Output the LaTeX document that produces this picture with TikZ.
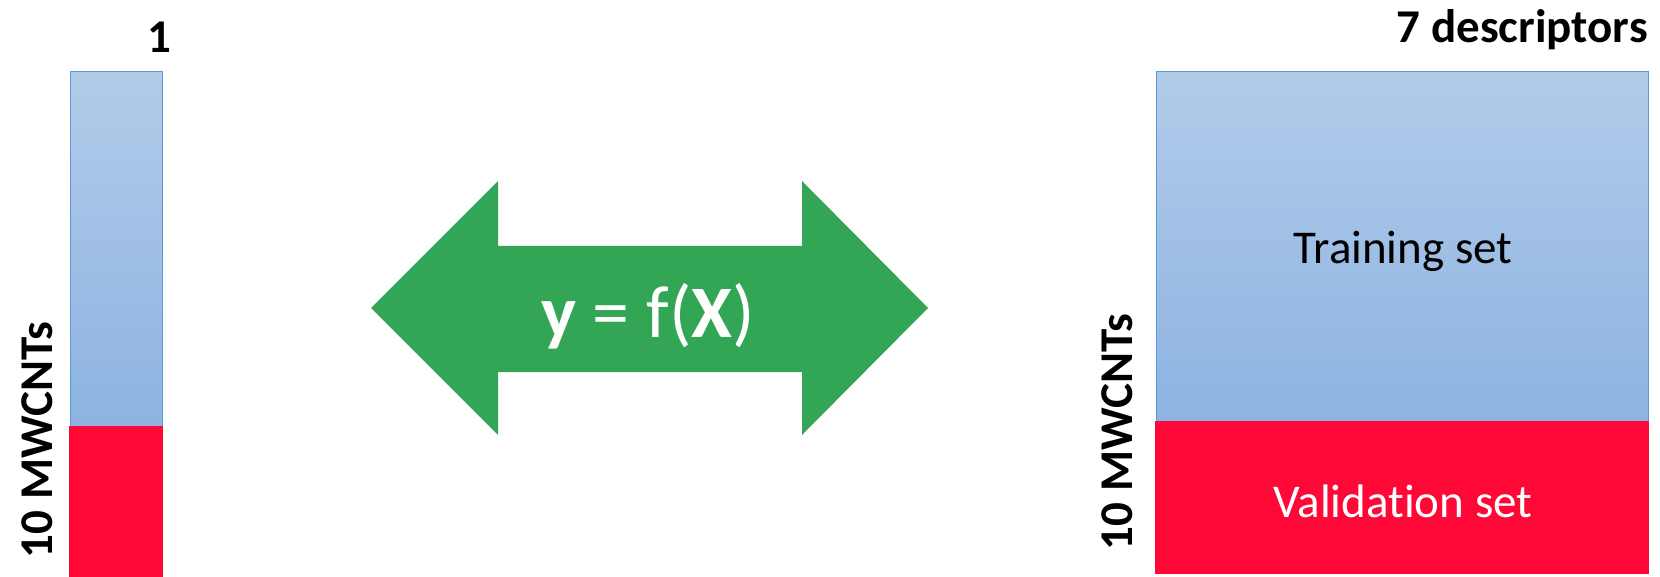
\documentclass[tikz,border=0pt]{standalone}
\usepackage{fontspec}
\setmainfont{Carlito}[Ligatures={NoCommon,NoDiscretionary}]
\definecolor{bluetop}{HTML}{B2CBE9}
\definecolor{bluebot}{HTML}{8DB3E2}
\definecolor{blueedge}{HTML}{5B9BD5}
\definecolor{setred}{HTML}{FF0838}
\definecolor{arrowgreen}{HTML}{33A655}
\tikzset{
  trainbox/.style={top color=bluetop, bottom color=bluebot, draw=blueedge, line width=1pt},
  valbox/.style={fill=setred, draw=setred, line width=0.6pt},
  boldlabel/.style={font=\fontsize{47}{56}\selectfont\bfseries, inner sep=0pt},
  setlabel/.style={font=\fontsize{47}{56}\selectfont, inner sep=0pt},
}
\begin{document}
\begin{tikzpicture}[x=1pt,y=-1pt]
\useasboundingbox (0,0) rectangle (1660,577);
% left bar
\path[trainbox] (70,72) rectangle (162,426);
\path[valbox] (69.5,426) rectangle (162.5,578);
\node[boldlabel] (one) at (159,37) {1};
\node[boldlabel, rotate=90] (mwleft) at (37,440) {10 MWCNTs};
% arrow
\fill[arrowgreen] (371,308) -- (498,181) -- (498,246) -- (802,246) -- (802,181)
  -- (928,308) -- (802,435) -- (802,372) -- (498,372) -- (498,435) -- cycle;
\node[font=\fontsize{74}{88}\selectfont, text=white, inner sep=0pt] (formula) at (648,316)
  {{\bfseries y} = f({\bfseries X})};
% right block
\path[trainbox] (1156,72) rectangle (1648,421);
\path[valbox] (1155.5,421) rectangle (1648.5,573);
\node[boldlabel, anchor=east] (desc) at (1648,30) {7 descriptors};
\node[boldlabel, rotate=90] (mwright) at (1117,432) {10 MWCNTs};
\node[setlabel] (train) at (1403,251) {Training set};
\node[setlabel, text=white] (valid) at (1403,501) {Validation set};
\end{tikzpicture}
\end{document}
